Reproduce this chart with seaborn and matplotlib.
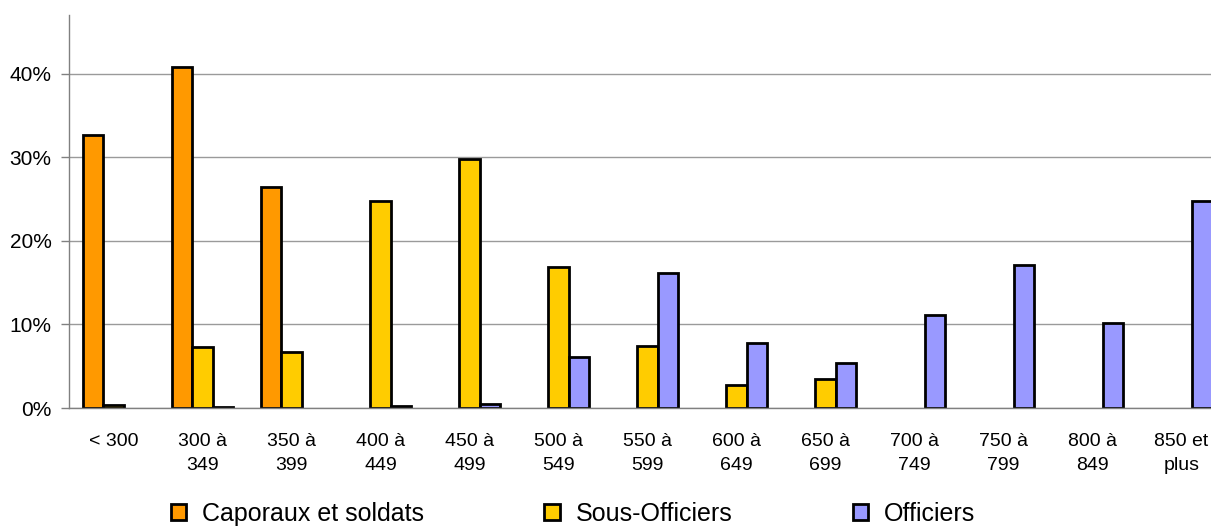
import numpy as np
import pandas as pd
import matplotlib
matplotlib.use("Agg")
import matplotlib.pyplot as plt
import seaborn as sns
from matplotlib.patches import Patch
from matplotlib.ticker import FuncFormatter, FixedLocator

categories = ["< 300", "300 à\n349", "350 à\n399", "400 à\n449", "450 à\n499",
              "500 à\n549", "550 à\n599", "600 à\n649", "650 à\n699", "700 à\n749",
              "750 à\n799", "800 à\n849", "850 et\nplus"]
series = ["Caporaux et soldats", "Sous-Officiers", "Officiers"]
caporaux = [32.7, 40.8, 26.4, np.nan, np.nan, np.nan, np.nan, np.nan, np.nan, np.nan, np.nan, np.nan, np.nan]
sous_off = [0.3, 7.3, 6.7, 24.7, 29.8, 16.9, 7.4, 2.8, 3.5, np.nan, np.nan, np.nan, np.nan]
officiers = [np.nan, 0.1, np.nan, 0.2, 0.5, 6.05, 16.2, 7.8, 5.4, 11.1, 17.1, 10.2, 24.75]
colors = ["#FF9900", "#FFCC00", "#9999FF"]

rows = []
for s, vals in zip(series, [caporaux, sous_off, officiers]):
    for c, v in zip(categories, vals):
        rows.append({"cat": c, "serie": s, "val": v / 100.0})
df = pd.DataFrame(rows)

sns.set_theme(style="white")
plt.rcParams["font.family"] = ["Liberation Sans", "DejaVu Sans"]
plt.rcParams["text.color"] = "black"
plt.rcParams["xtick.color"] = "black"
plt.rcParams["ytick.color"] = "black"

W, H = 1211, 527
fig = plt.figure(figsize=(W / 100, H / 100), dpi=100)
ax = fig.add_axes([69 / W, 1 - 408 / H, (1226 - 69) / W, (408 - 15) / H])

sns.barplot(data=df, x="cat", y="val", hue="serie", order=categories, hue_order=series,
            palette=colors, width=0.68, edgecolor="black", linewidth=2.0,
            saturation=1, ax=ax, legend=False, errorbar=None)

ax.set_xlim(-0.5, len(categories) - 0.5)
ax.set_ylim(0, 0.47)
ax.set_yticks([0, 0.1, 0.2, 0.3, 0.4])
ax.yaxis.set_major_formatter(FuncFormatter(lambda v, p: f"{v*100:.0f}%"))
ax.yaxis.grid(True, color="#9a9a9a", linewidth=1)
ax.xaxis.grid(False)
ax.set_axisbelow(True)
ax.set_xlabel("")
ax.set_ylabel("")

for side in ["top", "right"]:
    ax.spines[side].set_visible(False)
for side in ["left", "bottom"]:
    ax.spines[side].set_color("#808080")
    ax.spines[side].set_linewidth(1)

ax.xaxis.set_minor_locator(FixedLocator(np.arange(-0.5, len(categories), 1.0)))
ax.tick_params(axis="x", which="major", length=0, pad=18, labelsize=14, labelcolor="black")
ax.tick_params(axis="x", which="minor", length=6, width=1, color="#808080", direction="out")
ax.tick_params(axis="y", which="major", length=6, width=1, color="#808080", direction="out",
               pad=6.5, labelsize=15, left=True, labelcolor="black")
for lab in ax.get_xticklabels():
    lab.set_linespacing(1.55)
    lab.set_verticalalignment("top")

handles = [Patch(facecolor=c, edgecolor="black", linewidth=2.0) for c in colors]
fig.legend(handles, series, loc="center", bbox_to_anchor=(573 / W, 1 - 514 / H), ncol=3,
           frameon=False, fontsize=18, handlelength=0.62, handleheight=0.62,
           columnspacing=4.8, handletextpad=0.64, borderaxespad=0, borderpad=0)

fig.savefig("out.png", dpi=100)
